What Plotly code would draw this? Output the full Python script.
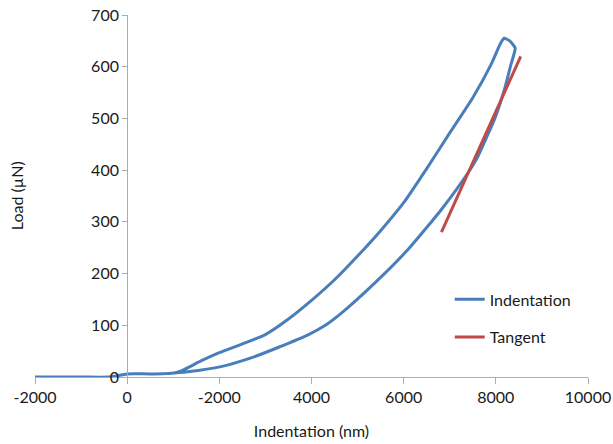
import plotly.graph_objects as go

# Indentation curve (loading then unloading)
indent_x = [-2000, -1000, -400, 0, 500, 950, 1200, 1600, 2000, 2500, 3000, 3500, 4000, 4500,
            5000, 5500, 6000, 6500, 7000, 7500, 7900, 8100, 8180, 8300, 8420,
            8330, 8200, 8000, 7607, 7390, 6811, 6088, 5365, 4642, 4300, 3914,
            3300, 2752, 2036, 1315, 900, 600]
indent_y = [0, 0, 0, 6, 6, 7, 13, 31, 47, 64, 82, 112, 148, 188,
            234, 283, 337, 403, 472, 540, 605, 645, 655, 650, 636,
            605, 560, 505, 426, 394, 323, 246, 181, 123, 100, 81,
            58, 39, 20, 10, 7, 6]

# Tangent line
tangent_x = [6820, 8540]
tangent_y = [280, 620]

x_tickvals = [-2000, 0, 2000, 4000, 6000, 8000, 10000]
x_ticktext = ["-2000", "0", "-2000", "4000", "6000", "8000", "10000"]
y_tickvals = [0, 100, 200, 300, 400, 500, 600, 700]

font_family = "Lato, 'Open Sans', sans-serif"
axis_color = "#b5aaa2"
text_color = "#1a1a1a"

fig = go.Figure()
fig.add_trace(go.Scatter(x=indent_x, y=indent_y, mode="lines", name="Indentation",
                         legendgroup="a",
                         line=dict(color="#4a7ebb", width=3, shape="spline", smoothing=0.5),
                         cliponaxis=False))
fig.add_trace(go.Scatter(x=tangent_x, y=tangent_y, mode="lines", name="Tangent",
                         legendgroup="b",
                         line=dict(color="#be4b48", width=3), cliponaxis=False))

xmin, xmax = -2000, 10000
fig.update_layout(
    width=613, height=444,
    margin=dict(l=35, r=25, t=15, b=67),
    paper_bgcolor="white", plot_bgcolor="white",
    font=dict(family=font_family, size=16, color=text_color),
    showlegend=True,
    legend=dict(x=0.75, y=0.162, xanchor="left", yanchor="middle",
                font=dict(size=16, color=text_color), bgcolor="rgba(0,0,0,0)",
                tracegroupgap=14, itemwidth=30),
    xaxis=dict(range=[xmin, xmax], tickmode="array", tickvals=x_tickvals, ticktext=x_ticktext,
               showgrid=False, zeroline=False, showline=True, linecolor=axis_color, linewidth=1,
               ticks="outside", ticklen=6, tickcolor=axis_color, automargin=False,
               ticklabeloverflow="allow",
               title=dict(text="Indentation (nm)", font=dict(size=16), standoff=20),
               domain=[0, 1]),
    yaxis=dict(range=[0, 700], tickmode="array", tickvals=y_tickvals,
               showgrid=False, zeroline=False, showline=True, linecolor=axis_color, linewidth=1,
               ticks="outside", ticklen=5, tickcolor=axis_color, automargin=False,
               ticklabeloverflow="allow",
               anchor="free", position=(0 - xmin) / (xmax - xmin)),
)
fig.add_annotation(text="Load (µN)", xref="paper", yref="paper", x=-0.034, y=0.5,
                   xanchor="center", yanchor="middle", textangle=-90, showarrow=False,
                   font=dict(size=16, color=text_color))
fig.write_html("out.html", config={"displayModeBar": False},
               post_script="document.body.style.margin='0';document.body.style.overflow='hidden';")
